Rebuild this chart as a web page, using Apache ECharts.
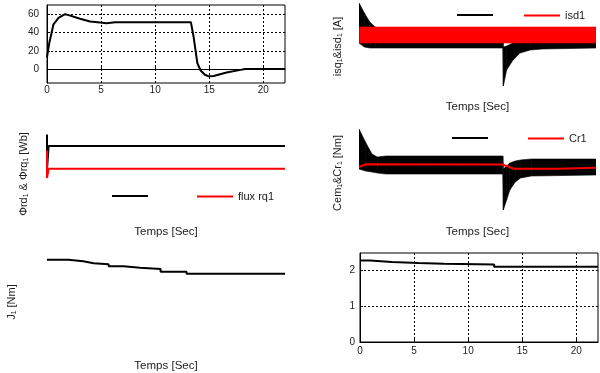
<!DOCTYPE html>
<html><head><meta charset="utf-8">
<script src="https://cdn.jsdelivr.net/npm/echarts@6/dist/echarts.min.js"></script>
<style>html,body{margin:0;padding:0;background:#fff}#c{width:600px;height:373px}</style>
</head><body><div id="c"></div>
<script>
// ---- Data ----
const xTicks = [0, 5, 10, 15, 20];
const speedTicks = [0, 20, 40, 60];
const jTicks = [0, 1, 2];

// Panel 1: speed
const speedTime  = [0, 0.2, 0.6, 1.06, 1.67, 2.0, 3.06, 3.98, 4.9, 5.5, 6.3, 13.3, 13.55, 13.9, 14.2, 14.6, 14.9, 15.4, 16.6, 17.9, 18.3, 22];
const speedValue = [13, 28, 49, 56, 60, 59, 55, 52, 51, 50, 51.3, 51.3, 35.4, 6.5, -1.4, -6, -7.6, -7.3, -3.6, -0.7, 0.3, 0.3];

// Panel 2: isq1 (envelope of oscillating current) and isd1
const isqTime  = [0, 0.5, 1.0, 1.5, 2, 13.35, 13.4, 13.7, 14.3, 14.95, 15.9, 17, 22];
const isqUpper = [16.75, 14.25, 12, 10.75, 10.25, 10.25, 5.75, 6, 6.75, 7, 7.25, 7.25, 7.25];
const isqLower = [6.75, 5.75, 5.5, 5.5, 5.5, 5.5, -4, 0, 2.5, 4.25, 5, 5.25, 5.5];
const isdTime  = [0.05, 22];
const isdUpper = [10.75, 10.75];
const isdLower = [6.75, 6.75];

// Panel 3: flux rd1 / flux rq1
const fluxRdTime  = [0, 0, 0, 0.15, 22];
const fluxRdValue = [1, 1.5, -0.05, 1, 1];
const fluxRqTime  = [0, 0, 0, 0.15, 22];
const fluxRqValue = [0, 0.8, -0.4, 0, 0];

// Panel 4: Cem1 (envelope) and Cr1
const cemTime  = [0, 0.6, 1.2, 1.7, 2.5, 13.35, 13.4, 13.7, 14, 14.5, 15, 16, 22];
const cemUpper = [17, 12.67, 8.67, 7.67, 8, 8, 3.67, 4.67, 5.67, 6.33, 6.67, 7, 7];
const cemLower = [3.67, 3, 2.67, 2.33, 2, 2, -10, -6.67, -3.33, -0.67, 0.67, 1.33, 1.67];
const crTime  = [0, 0.6, 13.3, 14.4, 18.5, 18.6, 22];
const crValue = [4.33, 5.23, 5.17, 3.77, 3.77, 4.1, 4.1];

// Panel 5: J1 (left)
const jLeftTime  = [0, 1.97, 3.36, 4.3, 5.7, 7.07, 8.6, 10.5, 12.9, 22];
const jLeftValue = [2.26, 2.241, 2.217, 2.205, 2.18, 2.163, 2.147, 2.115, 2.09, 2.09];

// Panel 6: J1 (right)
const jRightTime  = [0, 0.93, 2.95, 5.4, 7.75, 12.4, 22];
const jRightValue = [2.26, 2.22, 2.19, 2.17, 2.15, 2.09, 2.09];

const legendHiddenText = ['isq1', 'flux rd1', 'Cem1'];

// ---- Chart ----
const FONT = '"Liberation Sans", Arial, Helvetica, sans-serif';
const TXT = '#222';
const pairs = (t, v) => t.map((x, i) => [x, v[i]]);

const gridLine = { show: true, lineStyle: { color: '#000', type: [2, 2], width: 1 } };
function visX(gi, margin) {
  return { gridIndex: gi, type: 'value', min: 0, max: 22,
    axisLine: { show: true, lineStyle: { color: '#000', width: 1 } },
    axisTick: { show: true, inside: true, length: 3, customValues: xTicks, lineStyle: { color: '#000' } },
    axisLabel: { customValues: xTicks, margin: margin, fontSize: 10, color: TXT, fontFamily: FONT },
    splitLine: gridLine };
}
function visY(gi, min, max, ticks, margin) {
  return { gridIndex: gi, type: 'value', min: min, max: max,
    axisLine: { show: true, lineStyle: { color: '#000', width: 1 } },
    axisTick: { show: true, inside: true, length: 3, customValues: ticks, lineStyle: { color: '#000' } },
    axisLabel: { customValues: ticks, margin: margin, fontSize: 10, color: TXT, fontFamily: FONT },
    splitLine: gridLine };
}
function hidAxis(gi, min, max, name, gap, fs) {
  return { gridIndex: gi, type: 'value', min: min, max: max,
    axisLine: { show: false }, axisTick: { show: false }, axisLabel: { show: false }, splitLine: { show: false },
    name: name, nameLocation: 'middle', nameGap: gap,
    nameTextStyle: { fontSize: fs, color: TXT, fontFamily: FONT } };
}
function lineS(name, xi, data, color, width, extra) {
  return Object.assign({ type: 'line', name: name, xAxisIndex: xi, yAxisIndex: xi, data: data,
    symbol: 'none', showSymbol: false, color: color, lineStyle: { color: color, width: width },
    animation: false, silent: true }, extra || {});
}
// Envelope band: one quadrilateral per interval, placed through the axes' scales (api.coord)
function bandS(name, xi, t, up, lo, color) {
  return { type: 'custom', name: name, xAxisIndex: xi, yAxisIndex: xi,
    data: t.map((x, i) => [x, up[i], lo[i]]),
    encode: { x: 0, y: [1, 2] }, color: color, itemStyle: { color: color },
    clip: true, silent: true, animation: false,
    renderItem: function (params, api) {
      const i = params.dataIndex;
      if (i >= t.length - 1) return null;
      const pts = [api.coord([t[i], up[i]]), api.coord([t[i + 1], up[i + 1]]),
                   api.coord([t[i + 1], lo[i + 1]]), api.coord([t[i], lo[i]])];
      return { type: 'polygon', shape: { points: pts }, style: { fill: color, stroke: color, lineWidth: 0.6 } };
    } };
}
function legendAt(name, left, top) {
  return { data: [name], left: left, top: top, padding: 0, icon: 'rect', itemWidth: 36, itemHeight: 2,
    selectedMode: false, formatter: n => legendHiddenText.includes(n) ? '' : n,
    textStyle: { fontSize: 11, color: TXT, fontFamily: FONT } };
}

const chart = echarts.init(document.getElementById('c'), null, { renderer: 'canvas' });
chart.setOption({
  animation: false,
  backgroundColor: '#fff',
  grid: [
    { left: 47, top: 5, width: 238, height: 78, show: true, borderColor: '#000', borderWidth: 1, backgroundColor: 'transparent' },
    { left: 359, top: 3, width: 237, height: 87 },
    { left: 47, top: 130, width: 238, height: 88 },
    { left: 359, top: 127, width: 237, height: 92 },
    { left: 47, top: 250, width: 238, height: 104 },
    { left: 360, top: 253, width: 238, height: 89, show: true, borderColor: '#000', borderWidth: 1, backgroundColor: 'transparent' }
  ],
  xAxis: [
    visX(0, 2),
    hidAxis(1, 0, 22, 'Temps [Sec]', 11, 11.5),
    hidAxis(2, 0, 22, 'Temps [Sec]', 8, 11.5),
    hidAxis(3, 0, 22, 'Temps [Sec]', 7, 11.5),
    hidAxis(4, 0, 22, 'Temps [Sec]', 6, 11.5),
    visX(5, 4)
  ],
  yAxis: [
    visY(0, -15, 70, speedTicks, 8),
    hidAxis(1, -5, 16.75, 'isq\u2081&isd\u2081 [A]', 16, 11),
    hidAxis(2, -2.15, 1.7, '\u03A6rd\u2081 & \u03A6rq\u2081 [Wb]', 18, 11),
    hidAxis(3, -13, 17.67, 'Cem\u2081&Cr\u2081 [Nm]', 16, 11),
    hidAxis(4, 1.115, 2.378, 'J\u2081 [Nm]', 30, 11),
    visY(5, 0, 2.47, jTicks, 5)
  ],
  legend: [
    legendAt('isq1', 457, 14),
    legendAt('isd1', 524, 10),
    legendAt('flux rd1', 112, 195),
    legendAt('flux rq1', 197, 191),
    legendAt('Cem1', 452, 137),
    legendAt('Cr1', 528, 133)
  ],
  series: [
    lineS('speed', 0, pairs(speedTime, speedValue), '#000', 2),
    bandS('isq1', 1, isqTime, isqUpper, isqLower, '#000'),
    bandS('isd1', 1, isdTime, isdUpper, isdLower, '#ff0000'),
    lineS('flux rd1', 2, pairs(fluxRdTime, fluxRdValue), '#000', 2),
    lineS('flux rq1', 2, pairs(fluxRqTime, fluxRqValue), '#ff0000', 2),
    bandS('Cem1', 3, cemTime, cemUpper, cemLower, '#000'),
    lineS('Cr1', 3, pairs(crTime, crValue), '#ff0000', 2),
    lineS('J1 left', 4, pairs(jLeftTime, jLeftValue), '#000', 2, { step: 'end' }),
    lineS('J1 right', 5, pairs(jRightTime, jRightValue), '#000', 2, { step: 'end' })
  ]
});
</script></body></html>
